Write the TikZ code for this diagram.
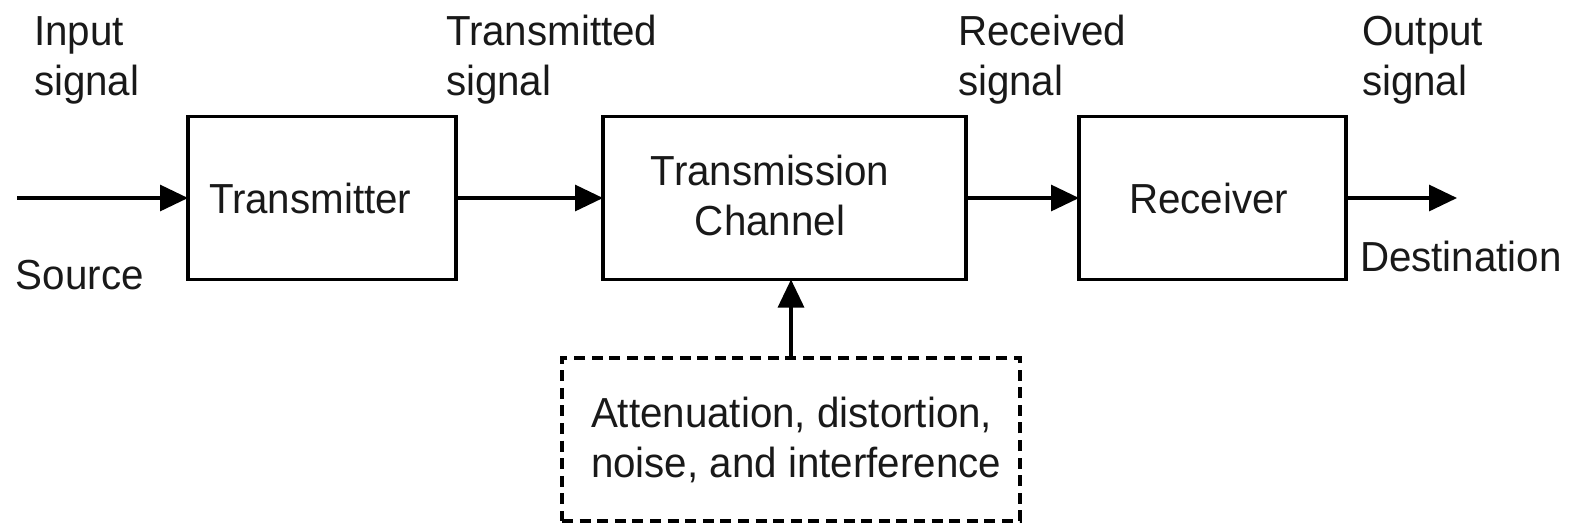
\documentclass[tikz,border=0pt]{standalone}
\usepackage{fontspec}
\setmainfont{Liberation Sans}[FakeStretch=0.96]
\usetikzlibrary{arrows.meta}
\begin{document}
\begin{tikzpicture}[x=0.5pt,y=-0.5pt,
  every node/.style={inner sep=0pt,outer sep=0pt,font=\fontsize{21}{25}\selectfont,text=black!90},
  blk/.style={draw,line width=1.6pt,minimum width=#1,minimum height=81.5pt},
  lbl/.style={anchor=base west,align=left},
  conn/.style={line width=1.6pt,-{Triangle[length=14pt,width=13pt]}},
  noisebox/.style={draw,line width=1.75pt,dash pattern=on 5.5pt off 3.3pt,minimum width=229pt,minimum height=81.5pt}]
\useasboundingbox (0,0) rectangle (1573,527);
% blocks
\node[blk=134pt] (tx) at (322,198) {};
\node[blk=181.5pt] (ch) at (784.5,198) {};
\node[blk=133.5pt] (rx) at (1212.5,198) {};
\node[noisebox] (nz) at (791,439.5) {};
% block texts
\node[lbl] (txt) at (209,213) {Transmitter};
\node[anchor=base,align=center] (cht) at (770,235) {Transmission\\Channel};
\node[lbl] (rxt) at (1129,213) {Receiver};
\node[lbl] (nzt) at (591,477) {Attenuation, distortion,\\noise, and interference};
% signal labels
\node[lbl] (in) at (34,95) {Input\\signal};
\node[lbl] (ts) at (446,95) {Transmitted\\signal};
\node[lbl] (rs) at (958,95) {Received\\signal};
\node[lbl] (os) at (1362,95) {Output\\signal};
\node[lbl] (src) at (16,289) {Source};
\node[lbl] (dst) at (1360,271) {Destination};
% connectors
\coordinate (start) at (17,198);
\coordinate (finish) at (1457,198);
\draw[conn] (start) -- (tx.west);
\draw[conn] (tx.east) -- (ch.west);
\draw[conn] (ch.east) -- (rx.west);
\draw[conn] (rx.east) -- (finish);
\draw[conn] (nz.north) -- (nz.north |- ch.south);
\end{tikzpicture}
\end{document}
